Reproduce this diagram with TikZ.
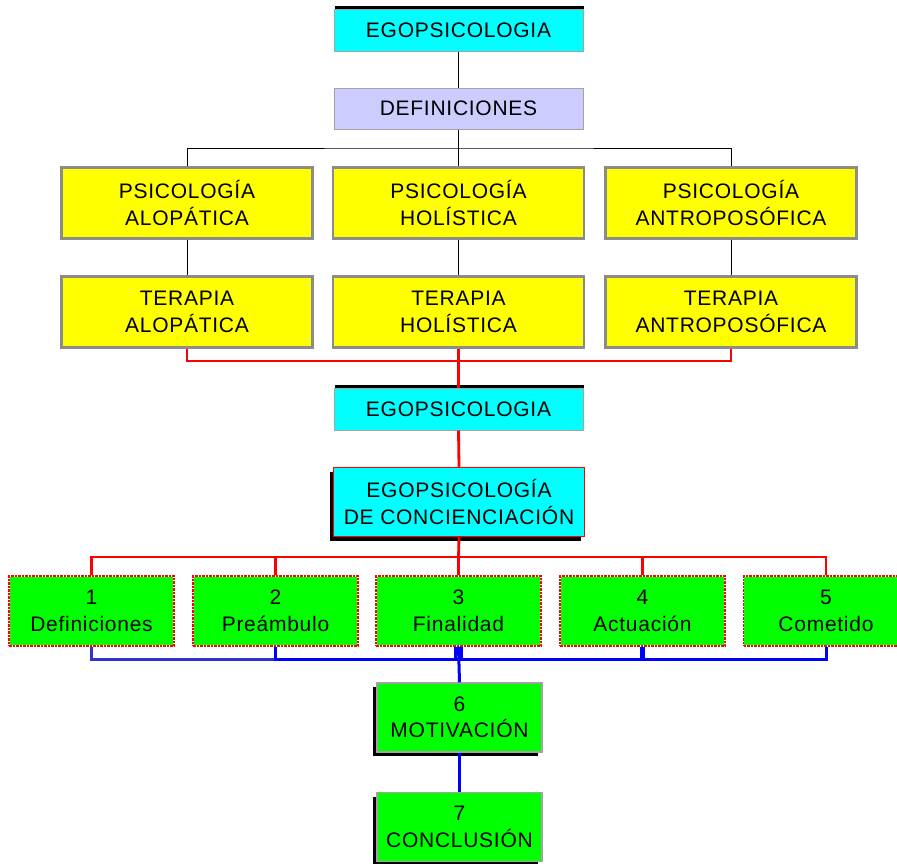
\documentclass[tikz,border=0pt]{standalone}
\usepackage{fontspec}
\setmainfont[LetterSpace=3.5]{Liberation Sans}
\usetikzlibrary{shadows}
\definecolor{cy}{HTML}{00FFFF}
\definecolor{yl}{HTML}{FFFF00}
\definecolor{gr}{HTML}{00FF00}
\definecolor{lav}{HTML}{CCCCFF}
\definecolor{bd}{HTML}{8C8C8C}
\definecolor{rd}{HTML}{FF0000}
\definecolor{bl}{HTML}{0000FF}
\definecolor{bl2}{HTML}{3333CC}
\begin{document}
\begin{tikzpicture}[x=1pt,y=-1pt,
  every node/.style={font=\fontsize{21}{26.5}\selectfont, align=center, inner sep=0pt},
  base/.style={rectangle, anchor=center},
  topshadow/.style={drop shadow={shadow xshift=1pt, shadow yshift=3pt, opacity=1, fill=black}},
  botshadow/.style={drop shadow={shadow xshift=-4pt, shadow yshift=-4pt, opacity=1, fill=black}},
  cyanbox/.style={base, fill=cy, draw=bd!80, line width=1pt, minimum width=249pt, minimum height=42pt, topshadow},
  lavbox/.style={base, fill=lav, draw=bd!80, line width=1pt, minimum width=249pt, minimum height=41pt},
  ybox/.style={base, fill=yl, draw=bd, line width=2.2pt, minimum width=251pt, minimum height=71pt},
  ccbox/.style={base, fill=cy, draw=rd, line width=1.5pt, minimum width=251pt, minimum height=69pt, botshadow},
  gbox/.style={base, fill=gr, draw=white, line width=1.2pt, minimum width=165pt, minimum height=70pt,
     postaction={draw=rd, line width=1.2pt, dash pattern=on 2.5pt off 1pt}},
  g2box/.style={base, fill=gr, draw=bd!80, line width=1.5pt, minimum width=165pt, minimum height=69pt, botshadow},
  blk/.style={draw=black, line width=1pt},
  red/.style={draw=rd, line width=2.8pt},
  blu/.style={draw=bl, line width=3pt},
]
\useasboundingbox (0,0) rectangle (897,863);
\clip (0,0) rectangle (897,863);
\fill[white] (0,0) rectangle (897,863);

\node[cyanbox] (e1) at (458.5,30) {EGOPSICOLOGIA};
\node[lavbox] (def) at (458.5,108.5) {DEFINICIONES};

\node[ybox] (p1) at (187,203) {PSICOLOGÍA\\ALOPÁTICA};
\node[ybox] (p2) at (458.5,203) {PSICOLOGÍA\\HOLÍSTICA};
\node[ybox] (p3) at (731,203) {PSICOLOGÍA\\ANTROPOSÓFICA};
\node[ybox] (t1) at (187,312) {TERAPIA\\ALOPÁTICA};
\node[ybox] (t2) at (458.5,312) {TERAPIA\\HOLÍSTICA};
\node[ybox] (t3) at (731,312) {TERAPIA\\ANTROPOSÓFICA};

\node[cyanbox] (e2) at (458.5,409) {EGOPSICOLOGIA};
\node[ccbox] (cc) at (459,502) {EGOPSICOLOGÍA\\DE CONCIENCIACIÓN};

\node[gbox] (g1) at (91.5,611) {1\\Definiciones};
\node[gbox] (g2) at (275.5,611) {2\\Preámbulo};
\node[gbox] (g3) at (458.5,611) {3\\Finalidad};
\node[gbox] (g4) at (642.5,611) {4\\Actuación};
\node[gbox] (g5) at (826,611) {5\\Cometido};

\node[g2box] (m6) at (459.5,717.5) {6\\MOTIVACIÓN};
\node[g2box] (c7) at (459.5,827) {7\\CONCLUSIÓN};

\coordinate (bj) at (458.5,148);
\coordinate (rj) at (458.5,361);
\coordinate (rj2) at (458.5,557);
\coordinate (bj2) at (458.5,659);

% black connectors
\draw[blk] (e1.south) -- (def.north);
\draw[blk] (def.south) -- (bj);
\draw[blk] (p1.north) |- (bj) -| (p3.north);
\draw[blk] (bj) -- (p2.north);
\draw[blk] (p1.south) -- (t1.north);
\draw[blk] (p2.south) -- (t2.north);
\draw[blk] (p3.south) -- (t3.north);

% red connectors
\draw[red] (t1.south) |- (rj) -| (t3.south);
\draw[red] (t2.south) -- (e2.north);
\draw[red] (e2.south) -- (cc.north);
\draw[red] (cc.south) -- (rj2);
\draw[red] (g1.north) |- (rj2) -| (g5.north);
\draw[red] (g2.north) |- (rj2);
\draw[red] (g4.north) |- (rj2);
\draw[red] (rj2) -- (g3.north);

% blue connectors
\draw[draw=bl2, line width=3pt] (g1.south) |- (g2.south |- bj2);
\draw[blu] (g2.south) |- (bj2) -| (g5.south);
\draw[blu] (g4.south) |- (bj2);
\draw[blu, line width=5pt] (g4.south) -- (g4.south |- bj2);
\draw[blu] ([xshift=-3pt]g3.south) -- ([xshift=-3pt]g3.south |- bj2);
\draw[blu] ([xshift=3pt]g3.south) -- ([xshift=3pt]g3.south |- bj2);
\draw[blu] (g3.south) -- (m6.north);
\draw[blu] (m6.south) -- (c7.north);
\end{tikzpicture}
\end{document}
